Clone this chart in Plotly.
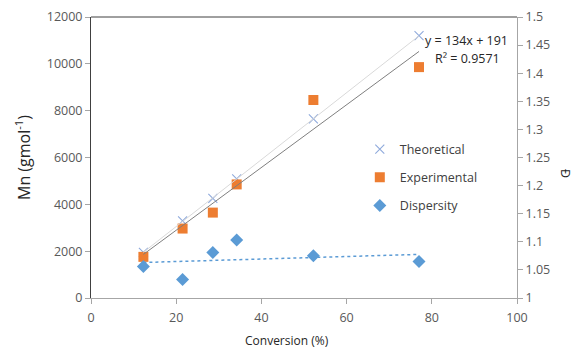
import numpy as np
import plotly.graph_objects as go

conversion = [12.3, 21.5, 28.6, 34.2, 52.2, 77.0]
mn_theoretical = [1950, 3290, 4250, 5090, 7650, 11200]
mn_experimental = [1757, 2966, 3647, 4851, 8455, 9860]
dispersity = [1.056, 1.033, 1.081, 1.103, 1.075, 1.065]

x_ticks = [0, 20, 40, 60, 80, 100]
y_ticks = [0, 2000, 4000, 6000, 8000, 10000, 12000]
y_ticktext = ["0", "2000", "4000", "6000", "8000", "10000", "12000"]
y2_ticks = [1, 1.05, 1.1, 1.15, 1.2, 1.25, 1.3, 1.35, 1.4, 1.45, 1.5]
y2_ticktext = ["1", "1.05", "1.1", "1.15", "1.2", "1.25", "1.3", "1.35", "1.4", "1.45", "1.5"]

FONT = "Open Sans"
TXT = "#595959"
DARK = "#404040"

def fit_line(xs, ys):
    k, b = np.polyfit(xs, ys, 1)
    xe = np.array([min(xs), max(xs)])
    return xe, k * xe + b

fig = go.Figure()

xt, yt = fit_line(conversion, mn_theoretical)
xe, ye = fit_line(conversion, mn_experimental)
xd, yd = fit_line(conversion, dispersity)

fig.add_trace(go.Scatter(x=conversion, y=mn_theoretical, mode="markers", name="Theoretical",
                         legendgroup="a",
                         marker=dict(symbol="x-thin", size=9, line=dict(width=1.1, color="#8FAADC"),
                                     color="#8FAADC")))
fig.add_trace(go.Scatter(x=conversion, y=mn_experimental, mode="markers", name="Experimental",
                         legendgroup="b",
                         marker=dict(symbol="square", size=10, color="#ED7D31")))
fig.add_trace(go.Scatter(x=conversion, y=dispersity, mode="markers", name="Dispersity", yaxis="y2",
                         legendgroup="c",
                         marker=dict(symbol="diamond", size=10, color="#5B9BD5")))

fig.add_trace(go.Scatter(x=xt, y=yt, mode="lines", showlegend=False, hoverinfo="skip",
                         line=dict(color="#D9D9D9", width=1)))
fig.add_trace(go.Scatter(x=xe, y=ye, mode="lines", showlegend=False, hoverinfo="skip",
                         line=dict(color="#7F7F7F", width=1)))
fig.add_trace(go.Scatter(x=xd, y=yd, mode="lines", showlegend=False, hoverinfo="skip", yaxis="y2",
                         line=dict(color="#5B9BD5", width=1.5, dash="dot")))

axis_common = dict(showgrid=False, zeroline=False, showline=True, linewidth=1,
                   ticks="outside", ticklen=5, tickcolor="#A6A6A6", automargin=False,
                   tickfont=dict(family=FONT, size=12.5, color=TXT))

fig.update_layout(
    template="none",
    width=578, height=349,
    margin=dict(l=91, r=61, t=17, b=51, autoexpand=False),
    paper_bgcolor="white", plot_bgcolor="white",
    font=dict(family=FONT, size=12.5, color=TXT),
    showlegend=True,
    legend=dict(x=0.631, y=0.582, xanchor="left", yanchor="top", bgcolor="rgba(0,0,0,0)",
                font=dict(family=FONT, size=12.5, color=DARK), tracegroupgap=9,
                itemwidth=30),
    xaxis=dict(range=[0, 100], tickvals=x_ticks, linecolor="#A6A6A6", ticklabelstandoff=3,
               **axis_common),
    yaxis=dict(range=[0, 12000], tickvals=y_ticks, ticktext=y_ticktext, linecolor=DARK,
               **axis_common),
    yaxis2=dict(range=[1, 1.5], tickvals=y2_ticks, ticktext=y2_ticktext, overlaying="y",
                side="right", linecolor="#A6A6A6", **axis_common),
)

fig.add_shape(type="line", xref="paper", yref="paper", x0=0, x1=1, y0=1, y1=1,
              line=dict(color=DARK, width=1))

def px_ann(text, px, py, size=12.5, angle=0, xanchor="center", color="#262626"):
    fig.add_annotation(text=text, xref="paper", yref="paper",
                       x=(px - 91) / 426, y=(298 - py) / 281,
                       xanchor=xanchor, yanchor="middle", textangle=angle, showarrow=False,
                       font=dict(family=FONT, size=size, color=color))

px_ann("Mn (gmol<sup>-1</sup>)", 23, 158, size=16, angle=-90)
px_ann("Conversion (%)", 286.5, 340.5, size=12)
px_ann("Đ", 566, 173, angle=90)
px_ann("y = 134x + 191", 423, 41, xanchor="left")
px_ann("R² = 0.9571", 433, 59, xanchor="left")

fig.write_html("out.html", config={"displayModeBar": False},
               post_script="document.body.style.margin='0';")
